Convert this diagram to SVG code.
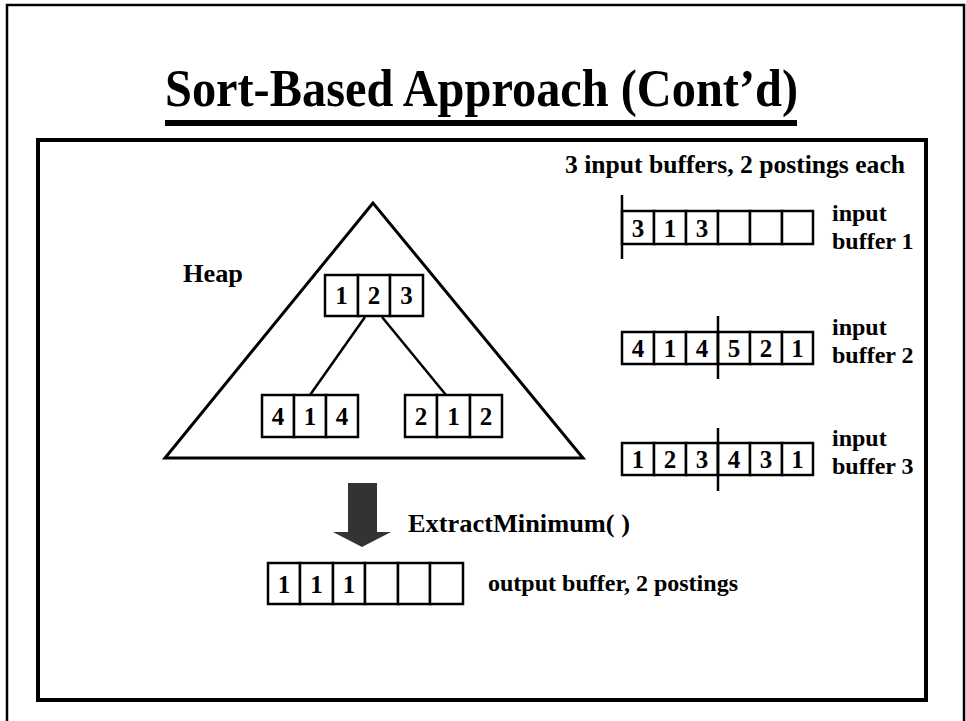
<svg xmlns="http://www.w3.org/2000/svg" width="966" height="721" viewBox="0 0 966 721">
  <style>
    text { font-family: "Liberation Serif", "Times New Roman", serif; font-weight: bold; fill: #000; }
    .cell { fill: #fff; stroke: #000; stroke-width: 2.5; }
    .num { font-size: 25px; text-anchor: middle; }
    .lbl { font-size: 24px; }
    .edge { stroke: #000; stroke-width: 2.5; fill: none; }
    .mark { stroke: #000; stroke-width: 2.5; }
  </style>
  <rect width="966" height="721" fill="#fff"/>

  <!-- slide frame (open at the bottom) -->
  <path d="M7,721 V5 H964 V721" fill="none" stroke="#000" stroke-width="2.5"/>

  <!-- title -->
  <g id="title">
    <text x="165" y="106" font-size="52" textLength="633" lengthAdjust="spacingAndGlyphs">Sort-Based Approach (Cont’d)</text>
    <rect x="165" y="120" width="632" height="6" fill="#000"/>
  </g>

  <!-- content frame -->
  <rect x="38" y="140" width="888" height="560" fill="none" stroke="#000" stroke-width="4"/>

  <!-- heap -->
  <g id="heap">
    <polygon points="373,203 165,458 583,458" fill="none" stroke="#000" stroke-width="3"/>
    <text x="183" y="282" font-size="26" textLength="60" lengthAdjust="spacingAndGlyphs">Heap</text>
  </g>

  <g id="connectors">
    <line class="edge" x1="365" y1="317" x2="310" y2="395"/>
    <line class="edge" x1="382" y1="317" x2="446" y2="395"/>
  </g>

  <g id="heap-root">
    <rect class="cell" x="325" y="275" width="33" height="41"/>
    <rect class="cell" x="358" y="275" width="32" height="41"/>
    <rect class="cell" x="390" y="275" width="33" height="41"/>
    <text class="num" x="341.5" y="304">1</text>
    <text class="num" x="374" y="304">2</text>
    <text class="num" x="406.5" y="304">3</text>
  </g>

  <g id="heap-left">
    <rect class="cell" x="262" y="395" width="32" height="42"/>
    <rect class="cell" x="294" y="395" width="32" height="42"/>
    <rect class="cell" x="326" y="395" width="32" height="42"/>
    <text class="num" x="278" y="425">4</text>
    <text class="num" x="310" y="425">1</text>
    <text class="num" x="342" y="425">4</text>
  </g>

  <g id="heap-right">
    <rect class="cell" x="405" y="395" width="32" height="42"/>
    <rect class="cell" x="437" y="395" width="33" height="42"/>
    <rect class="cell" x="470" y="395" width="32" height="42"/>
    <text class="num" x="421" y="425">2</text>
    <text class="num" x="453.5" y="425">1</text>
    <text class="num" x="486" y="425">2</text>
  </g>

  <!-- input buffers -->
  <text x="565" y="173" font-size="25.5" textLength="340" lengthAdjust="spacingAndGlyphs">3 input buffers, 2 postings each</text>

  <g id="input-buffer-1">
    <rect class="cell" x="622" y="211" width="32" height="33"/>
    <rect class="cell" x="654" y="211" width="32" height="33"/>
    <rect class="cell" x="686" y="211" width="32" height="33"/>
    <rect class="cell" x="718" y="211" width="32" height="33"/>
    <rect class="cell" x="750" y="211" width="32" height="33"/>
    <rect class="cell" x="782" y="211" width="31" height="33"/>
    <line class="mark" x1="622" y1="195" x2="622" y2="259"/>
    <text class="num" x="638" y="237">3</text>
    <text class="num" x="670" y="237">1</text>
    <text class="num" x="702" y="237">3</text>
    <text class="lbl" x="832" y="221">input</text>
    <text class="lbl" x="832" y="249">buffer 1</text>
  </g>

  <g id="input-buffer-2">
    <rect class="cell" x="622" y="332" width="32" height="32"/>
    <rect class="cell" x="654" y="332" width="32" height="32"/>
    <rect class="cell" x="686" y="332" width="32" height="32"/>
    <rect class="cell" x="718" y="332" width="32" height="32"/>
    <rect class="cell" x="750" y="332" width="32" height="32"/>
    <rect class="cell" x="782" y="332" width="31" height="32"/>
    <line class="mark" x1="718" y1="316" x2="718" y2="379"/>
    <text class="num" x="638" y="357">4</text>
    <text class="num" x="670" y="357">1</text>
    <text class="num" x="702" y="357">4</text>
    <text class="num" x="734" y="357">5</text>
    <text class="num" x="766" y="357">2</text>
    <text class="num" x="797.5" y="357">1</text>
    <text class="lbl" x="832" y="335">input</text>
    <text class="lbl" x="832" y="363">buffer 2</text>
  </g>

  <g id="input-buffer-3">
    <rect class="cell" x="622" y="443" width="32" height="32"/>
    <rect class="cell" x="654" y="443" width="32" height="32"/>
    <rect class="cell" x="686" y="443" width="32" height="32"/>
    <rect class="cell" x="718" y="443" width="32" height="32"/>
    <rect class="cell" x="750" y="443" width="32" height="32"/>
    <rect class="cell" x="782" y="443" width="31" height="32"/>
    <line class="mark" x1="718" y1="428" x2="718" y2="491"/>
    <text class="num" x="638" y="468">1</text>
    <text class="num" x="670" y="468">2</text>
    <text class="num" x="702" y="468">3</text>
    <text class="num" x="734" y="468">4</text>
    <text class="num" x="766" y="468">3</text>
    <text class="num" x="797.5" y="468">1</text>
    <text class="lbl" x="832" y="446">input</text>
    <text class="lbl" x="832" y="474">buffer 3</text>
  </g>

  <!-- extract arrow -->
  <g id="extract">
    <polygon points="348,483 377,483 377,532 391,532 362,547 333,532 348,532" fill="#333"/>
    <text x="408" y="532" font-size="26" textLength="222" lengthAdjust="spacingAndGlyphs">ExtractMinimum( )</text>
  </g>

  <!-- output buffer -->
  <g id="output-buffer">
    <rect class="cell" x="268" y="563" width="32" height="41"/>
    <rect class="cell" x="300" y="563" width="33" height="41"/>
    <rect class="cell" x="333" y="563" width="32" height="41"/>
    <rect class="cell" x="365" y="563" width="33" height="41"/>
    <rect class="cell" x="398" y="563" width="32" height="41"/>
    <rect class="cell" x="430" y="563" width="33" height="41"/>
    <text class="num" x="284" y="593">1</text>
    <text class="num" x="316.5" y="593">1</text>
    <text class="num" x="349" y="593">1</text>
    <text class="lbl" x="488" y="591" textLength="250" lengthAdjust="spacingAndGlyphs">output buffer, 2 postings</text>
  </g>
</svg>
